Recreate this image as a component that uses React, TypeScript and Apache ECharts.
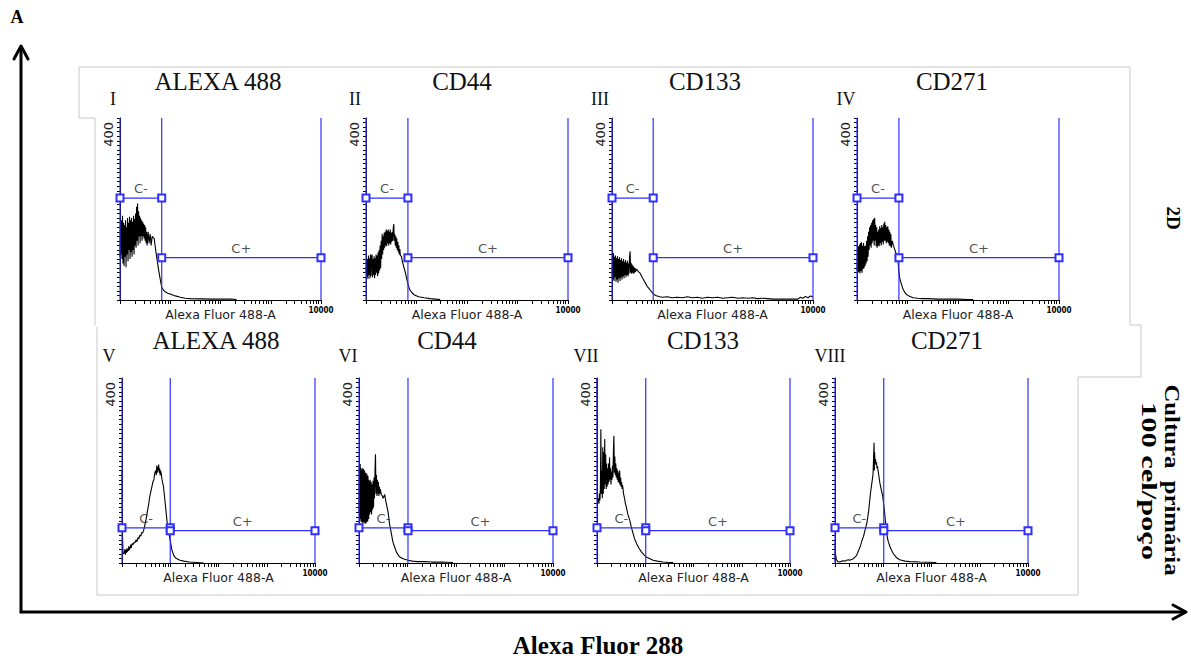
import React, { useEffect, useRef } from 'react';
import * as echarts from 'echarts';

// ---------- DATA ----------
const panelTitles = ['ALEXA 488', 'CD44', 'CD133', 'CD271', 'ALEXA 488', 'CD44', 'CD133', 'CD271'];
const panelNumerals = ['I', 'II', 'III', 'IV', 'V', 'VI', 'VII', 'VIII'];
const gateLabels = ['C-', 'C+'];
const xMaxLabel = '10000';
const yMaxLabel = 400;
// gate boundary (log decades) and gate heights (counts)
const gateX = [0.83, 0.83, 0.82, 0.83, 1.0, 1.01, 1.01, 1.01];
const gateNegY = [224, 224, 224, 224, 76, 76, 76, 76];
const gatePosY = [93, 93, 93, 93, 70, 70, 70, 70];

// histograms: [log10 decade, count]
const histI = [[0,95],[0.01,180],[0.02,100],[0.03,175],[0.04,90],[0.05,185],[0.06,80],[0.07,170],[0.08,75],[0.09,165],[0.10,95],[0.11,175],[0.12,72],[0.13,160],[0.14,100],[0.15,180],[0.16,85],[0.17,170],[0.18,110],[0.19,183],[0.20,90],[0.21,175],[0.22,105],[0.23,180],[0.24,95],[0.25,172],[0.26,110],[0.27,185],[0.28,100],[0.29,178],[0.30,120],[0.31,190],[0.32,115],[0.33,205],[0.34,130],[0.35,212],[0.36,120],[0.37,195],[0.38,140],[0.39,185],[0.40,125],[0.41,180],[0.42,140],[0.43,175],[0.44,130],[0.45,172],[0.46,140],[0.47,168],[0.48,135],[0.49,165],[0.50,130],[0.51,160],[0.52,125],[0.53,150],[0.54,120],[0.56,150],[0.58,125],[0.60,145],[0.62,120],[0.64,140],[0.68,135],[0.71,110],[0.74,87],[0.77,65],[0.80,46],[0.83,28],[0.87,21],[0.90,18],[0.95,15],[1.0,13],[1.1,9],[1.2,6],[1.3,4],[1.4,3],[1.6,2.5],[1.8,2],[2.0,2],[2.2,2],[2.32,1]];
const histII = [[0,60],[0.01,95],[0.02,50],[0.03,90],[0.04,46],[0.05,98],[0.06,55],[0.07,92],[0.08,48],[0.09,100],[0.10,52],[0.11,95],[0.12,100],[0.13,50],[0.14,90],[0.15,55],[0.16,96],[0.17,48],[0.18,92],[0.19,55],[0.20,100],[0.21,60],[0.22,98],[0.23,52],[0.24,105],[0.25,58],[0.26,110],[0.27,65],[0.28,120],[0.29,70],[0.30,130],[0.31,90],[0.32,145],[0.33,100],[0.34,140],[0.35,110],[0.36,148],[0.37,115],[0.38,150],[0.39,120],[0.40,155],[0.41,118],[0.42,152],[0.43,125],[0.44,155],[0.45,120],[0.46,150],[0.47,125],[0.48,155],[0.49,122],[0.50,148],[0.51,128],[0.52,150],[0.53,130],[0.54,158],[0.55,167],[0.56,130],[0.57,145],[0.58,120],[0.59,140],[0.60,115],[0.61,135],[0.62,110],[0.63,128],[0.64,105],[0.65,120],[0.66,100],[0.67,112],[0.68,98],[0.70,96],[0.72,85],[0.75,72],[0.78,60],[0.81,45],[0.84,31],[0.87,22],[0.91,16],[0.96,11],[1.04,7],[1.15,5],[1.27,3],[1.37,2],[1.47,1]];
const histIII = [[0,48],[0.01,100],[0.02,45],[0.03,103],[0.04,42],[0.05,95],[0.06,50],[0.07,98],[0.08,40],[0.09,92],[0.10,45],[0.11,96],[0.12,38],[0.13,90],[0.14,48],[0.15,94],[0.16,42],[0.17,88],[0.18,50],[0.19,92],[0.20,45],[0.21,85],[0.22,52],[0.23,90],[0.24,48],[0.25,84],[0.26,55],[0.27,88],[0.28,50],[0.29,82],[0.30,55],[0.31,86],[0.32,52],[0.33,80],[0.34,58],[0.35,95],[0.36,107],[0.37,60],[0.38,82],[0.39,58],[0.40,78],[0.41,60],[0.42,75],[0.43,58],[0.44,72],[0.45,60],[0.46,70],[0.47,62],[0.48,68],[0.50,66],[0.53,62],[0.56,59],[0.60,50],[0.63,44],[0.67,36],[0.70,30],[0.73,26],[0.76,22],[0.80,16],[0.83,13],[0.87,10],[0.90,9],[0.95,7],[1.0,6],[1.1,7],[1.2,5],[1.3,6],[1.4,5],[1.5,7],[1.6,5],[1.7,6],[1.8,4],[1.9,6],[2.0,5],[2.1,6],[2.2,4],[2.3,5],[2.4,6],[2.5,4],[2.6,5],[2.7,4],[2.8,5],[2.9,3],[3.0,4],[3.1,3],[3.2,2],[3.4,2],[3.6,2],[3.7,2],[3.75,6],[3.8,4],[3.85,8],[3.9,5],[3.95,9],[4.0,7]];
const histIV = [[0,65],[0.01,120],[0.02,60],[0.03,118],[0.04,62],[0.05,122],[0.06,58],[0.07,125],[0.08,64],[0.09,127],[0.10,60],[0.11,120],[0.12,68],[0.13,125],[0.14,70],[0.15,118],[0.16,75],[0.17,120],[0.18,80],[0.19,130],[0.20,85],[0.21,140],[0.22,95],[0.23,150],[0.24,110],[0.25,160],[0.26,120],[0.27,165],[0.28,115],[0.29,170],[0.30,125],[0.31,175],[0.32,130],[0.33,178],[0.34,120],[0.35,181],[0.36,130],[0.37,165],[0.38,118],[0.39,160],[0.40,115],[0.41,150],[0.42,120],[0.43,155],[0.44,118],[0.45,162],[0.46,125],[0.47,158],[0.48,120],[0.49,165],[0.50,128],[0.51,160],[0.52,122],[0.53,168],[0.54,130],[0.55,172],[0.56,130],[0.57,165],[0.58,125],[0.59,160],[0.60,128],[0.61,162],[0.62,125],[0.63,155],[0.64,120],[0.65,150],[0.66,118],[0.67,145],[0.68,115],[0.70,130],[0.72,120],[0.75,110],[0.78,100],[0.81,90],[0.83,60],[0.85,46],[0.88,35],[0.91,24],[0.95,16],[0.98,12],[1.04,8],[1.11,5],[1.2,4],[1.3,3],[1.4,3],[1.6,2],[1.8,2],[2.0,2],[2.2,1],[2.3,1]];
const histV = [[0,200],[0.01,60],[0.02,25],[0.03,20],[0.05,22],[0.06,30],[0.07,18],[0.08,28],[0.09,22],[0.10,32],[0.11,24],[0.12,30],[0.13,26],[0.14,36],[0.15,28],[0.17,34],[0.18,40],[0.19,32],[0.21,42],[0.23,40],[0.25,45],[0.27,44],[0.29,50],[0.31,46],[0.33,55],[0.35,52],[0.37,60],[0.39,58],[0.41,66],[0.43,65],[0.45,71],[0.48,85],[0.50,95],[0.52,108],[0.55,125],[0.57,140],[0.59,151],[0.62,165],[0.64,175],[0.66,180],[0.68,195],[0.70,200],[0.71,190],[0.72,211],[0.73,195],[0.74,208],[0.75,200],[0.76,213],[0.77,195],[0.78,205],[0.79,190],[0.80,200],[0.81,195],[0.83,180],[0.86,165],[0.90,125],[0.93,93],[0.96,70],[1.0,49],[1.03,30],[1.07,17],[1.10,12],[1.14,9],[1.2,6],[1.28,4],[1.4,2],[1.55,1],[1.69,0]];
const histVI = [[0,110],[0.005,205],[0.01,100],[0.015,210],[0.02,95],[0.025,214],[0.03,105],[0.035,200],[0.04,90],[0.045,205],[0.05,100],[0.055,195],[0.06,88],[0.065,200],[0.07,95],[0.075,205],[0.08,85],[0.085,198],[0.09,95],[0.095,203],[0.10,88],[0.105,195],[0.11,98],[0.115,200],[0.12,86],[0.125,195],[0.13,92],[0.135,190],[0.14,85],[0.145,195],[0.15,95],[0.155,188],[0.16,88],[0.165,192],[0.17,100],[0.175,185],[0.18,90],[0.185,188],[0.19,100],[0.195,180],[0.20,95],[0.21,178],[0.22,105],[0.23,180],[0.24,110],[0.25,175],[0.26,105],[0.27,170],[0.28,115],[0.29,178],[0.30,120],[0.31,185],[0.32,140],[0.33,200],[0.34,235],[0.35,150],[0.36,190],[0.37,145],[0.38,180],[0.39,150],[0.40,175],[0.41,145],[0.42,165],[0.43,150],[0.44,160],[0.46,148],[0.48,145],[0.50,140],[0.53,148],[0.55,135],[0.57,125],[0.60,110],[0.63,84],[0.67,62],[0.70,45],[0.74,33],[0.77,24],[0.81,17],[0.84,13],[0.91,9],[1.01,6],[1.1,4],[1.2,3],[1.35,3],[1.5,2],[1.7,2],[1.94,1]];
const histVII = [[0,400],[0.01,135],[0.02,130],[0.03,140],[0.04,128],[0.05,150],[0.06,135],[0.07,160],[0.08,289],[0.09,150],[0.10,200],[0.11,140],[0.12,250],[0.13,150],[0.14,240],[0.15,160],[0.16,268],[0.17,170],[0.18,235],[0.19,160],[0.20,215],[0.21,165],[0.22,205],[0.23,170],[0.24,215],[0.25,175],[0.26,228],[0.27,180],[0.28,205],[0.29,170],[0.30,198],[0.31,180],[0.32,210],[0.33,185],[0.34,240],[0.35,275],[0.36,195],[0.37,230],[0.38,190],[0.39,215],[0.40,185],[0.41,205],[0.42,180],[0.43,200],[0.44,175],[0.45,195],[0.46,172],[0.47,200],[0.48,168],[0.49,185],[0.50,165],[0.51,175],[0.52,160],[0.53,168],[0.54,160],[0.55,150],[0.57,140],[0.59,128],[0.61,120],[0.64,105],[0.68,92],[0.71,78],[0.75,63],[0.78,52],[0.82,42],[0.87,32],[0.92,24],[0.97,18],[1.02,13],[1.1,9],[1.16,6],[1.25,4],[1.37,2],[1.5,1],[1.58,1]];
const histVIII = [[0,5],[0.005,49],[0.01,20],[0.03,7],[0.06,3],[0.10,2],[0.14,4],[0.18,5],[0.21,4],[0.24,6],[0.28,7],[0.31,6],[0.35,8],[0.38,9],[0.40,12],[0.42,13],[0.45,17],[0.47,22],[0.50,30],[0.52,35],[0.55,45],[0.57,52],[0.59,57],[0.62,70],[0.64,78],[0.66,86],[0.68,100],[0.70,115],[0.72,136],[0.74,155],[0.76,170],[0.78,185],[0.79,195],[0.80,230],[0.81,260],[0.815,200],[0.82,240],[0.83,216],[0.84,225],[0.85,212],[0.86,218],[0.87,205],[0.88,209],[0.90,195],[0.93,173],[0.96,158],[0.99,144],[1.01,125],[1.03,107],[1.05,85],[1.07,64],[1.10,48],[1.14,35],[1.18,26],[1.21,20],[1.27,12],[1.34,7],[1.45,4],[1.55,3],[1.76,2],[2.1,1]];
const histograms = [histI, histII, histIII, histIV, histV, histVI, histVII, histVIII];

// ---------- LAYOUT ----------
const W = 1191;
const H = 658;
const BLUE = '#2f2fff';
const gridLefts = [120, 366, 612, 857, 122, 359, 597, 835];
const gridTops = [118, 118, 118, 118, 378, 378, 378, 378];
const gridWidths = [201, 202, 201, 202, 193, 194, 193, 193];
const gridHeights = [182, 182, 182, 182, 185, 185, 185, 185];
const titlePos = [[218, 81], [462, 81], [705, 81], [952, 81], [216, 340], [447, 340], [703, 340], [947, 340]];
const numeralPos = [[113, 99], [355, 99], [600, 99], [846, 99], [109, 356], [348, 356], [586, 356], [830, 356]];

// log-decade tick positions (1..9 x 10^d)
const xTickValues: number[] = [];
for (let d = 0; d < 4; d++) for (let k = 1; k < 10; k++) xTickValues.push(d + Math.log10(k));
xTickValues.push(4);

function buildOption() {
  const grid: any[] = [];
  const xAxis: any[] = [];
  const yAxis: any[] = [];
  const series: any[] = [];
  const graphic: any[] = [];

  for (let i = 0; i < 8; i++) {
    grid.push({ left: gridLefts[i], top: gridTops[i], width: gridWidths[i], height: gridHeights[i] });
    xAxis.push({
      type: 'value', gridIndex: i, min: 0, max: 4,
      name: 'Alexa Fluor 488-A', nameLocation: 'middle', nameGap: 8, nameMoveOverlap: false,
      nameTextStyle: { fontFamily: 'DejaVu Sans', fontSize: 12.5, color: '#222', verticalAlign: 'top' },
      axisLine: { show: true, onZero: false, lineStyle: { color: '#000', width: 1 } },
      axisTick: { show: true, length: 4, customValues: xTickValues, lineStyle: { color: '#000', width: 1 } },
      axisLabel: { show: true, customValues: [4], formatter: () => xMaxLabel, fontSize: 8, fontWeight: 'bold', margin: 6, color: '#000', fontFamily: 'DejaVu Sans Condensed' },
      splitLine: { show: false },
    });
    yAxis.push({
      type: 'value', gridIndex: i, min: 0, max: 400, interval: 10,
      axisLine: { show: true, lineStyle: { color: '#000', width: 1 } },
      axisTick: { show: true, length: 3, lineStyle: { color: '#000', width: 1 } },
      axisLabel: {
        show: true, formatter: (v: number) => (v === yMaxLabel ? String(yMaxLabel) : ''),
        rotate: 90, fontSize: 13, fontFamily: 'DejaVu Sans', color: '#222', margin: 12,
        align: 'right', verticalAlign: 'middle', padding: [0, 4, 0, 0],
      },
      splitLine: { show: false },
    });

    series.push({
      type: 'line', xAxisIndex: i, yAxisIndex: i, data: histograms[i], symbol: 'none', silent: true,
      lineStyle: { color: '#000', width: 1.1 }, z: 2,
    });
    const gx = gateX[i];
    [0, gx, 4].forEach((vx) => {
      series.push({
        type: 'line', xAxisIndex: i, yAxisIndex: i, data: [[vx, 0], [vx, 400]], symbol: 'none', silent: true, clip: false,
        lineStyle: { color: BLUE, width: 1.2 }, z: 3,
      });
    });
    series.push({
      type: 'line', xAxisIndex: i, yAxisIndex: i, data: [[0, gateNegY[i]], [gx, gateNegY[i]]], symbol: 'emptyRect', symbolSize: 7,
      showSymbol: true, silent: true, clip: false, itemStyle: { color: BLUE, borderWidth: 1.2 }, lineStyle: { color: BLUE, width: 1.2 }, z: 4,
    });
    series.push({
      type: 'line', xAxisIndex: i, yAxisIndex: i, data: [[gx, gatePosY[i]], [4, gatePosY[i]]], symbol: 'emptyRect', symbolSize: 7,
      showSymbol: true, silent: true, clip: false, itemStyle: { color: BLUE, borderWidth: 1.2 }, lineStyle: { color: BLUE, width: 1.2 }, z: 4,
    });
    series.push({
      type: 'scatter', xAxisIndex: i, yAxisIndex: i, symbolSize: 0, silent: true, z: 5,
      data: [
        { value: [gx / 2, gateNegY[i]], label: { formatter: gateLabels[0] } },
        { value: [(gx + 4) / 2, gatePosY[i]], label: { formatter: gateLabels[1] } },
      ],
      label: { show: true, position: 'top', distance: 3, fontFamily: 'DejaVu Sans', fontSize: 13, color: '#222' },
    });

    graphic.push({
      type: 'text', x: titlePos[i][0], y: titlePos[i][1],
      style: { text: panelTitles[i], fontFamily: 'Liberation Serif', fontSize: 25, fill: '#111', align: 'center', verticalAlign: 'middle', textAlign: 'center', textVerticalAlign: 'middle' },
    });
    graphic.push({
      type: 'text', x: numeralPos[i][0], y: numeralPos[i][1],
      style: { text: panelNumerals[i], fontFamily: 'Liberation Serif', fontSize: 18, fill: '#111', align: 'center', verticalAlign: 'middle', textAlign: 'center', textVerticalAlign: 'middle' },
    });
  }

  const frame = { stroke: '#c8c8c8', lineWidth: 1, fill: null };
  graphic.push({ type: 'polyline', shape: { points: [[95, 325], [95, 118], [79, 118], [79, 67], [1130, 67], [1130, 325]] }, style: frame, silent: true });
  graphic.push({ type: 'polyline', shape: { points: [[1130, 325], [1141, 325], [1141, 377], [1078, 377], [1078, 595], [97, 595], [97, 327]] }, style: frame, silent: true });

  const arrowStyle = { stroke: '#000', lineWidth: 3, fill: null, lineCap: 'round', lineJoin: 'round' };
  graphic.push({ type: 'line', shape: { x1: 21, y1: 612, x2: 21, y2: 47 }, style: arrowStyle, silent: true });
  graphic.push({ type: 'polyline', shape: { points: [[14, 59], [21, 46], [28, 59]] }, style: arrowStyle, silent: true });
  graphic.push({ type: 'line', shape: { x1: 21, y1: 612, x2: 1185, y2: 612 }, style: arrowStyle, silent: true });
  graphic.push({ type: 'polyline', shape: { points: [[1173, 605], [1186, 612], [1173, 619]] }, style: arrowStyle, silent: true });

  const boldText = (text: string, x: number, y: number, size: number, rotation = 0, scaleX = 1) => ({
    type: 'text', x, y, rotation, scaleX, silent: true,
    style: { text, fontFamily: 'Liberation Serif', fontWeight: 'bold', fontSize: size, fill: '#000', align: 'center', verticalAlign: 'middle', textAlign: 'center', textVerticalAlign: 'middle' },
  });
  graphic.push(boldText('A', 17, 17, 18));
  graphic.push(boldText('Alexa Fluor 288', 598, 645, 25));
  graphic.push(boldText('2D', 1173, 218, 19, -Math.PI / 2));
  graphic.push(boldText('Cultura  primária', 1172, 480, 21, -Math.PI / 2, 1.18));
  graphic.push(boldText('100 cel/poço', 1149, 481, 21, -Math.PI / 2, 1.45));

  return { animation: false, backgroundColor: '#fff', grid, xAxis, yAxis, series, graphic };
}

export default function App() {
  const ref = useRef<HTMLDivElement>(null);
  useEffect(() => {
    if (!ref.current) return;
    const chart = echarts.init(ref.current, undefined, { renderer: 'svg' });
    chart.setOption(buildOption() as any);
    return () => chart.dispose();
  }, []);
  return <div ref={ref} style={{ position: 'absolute', left: 0, top: 0, width: W, height: H }} />;
}
